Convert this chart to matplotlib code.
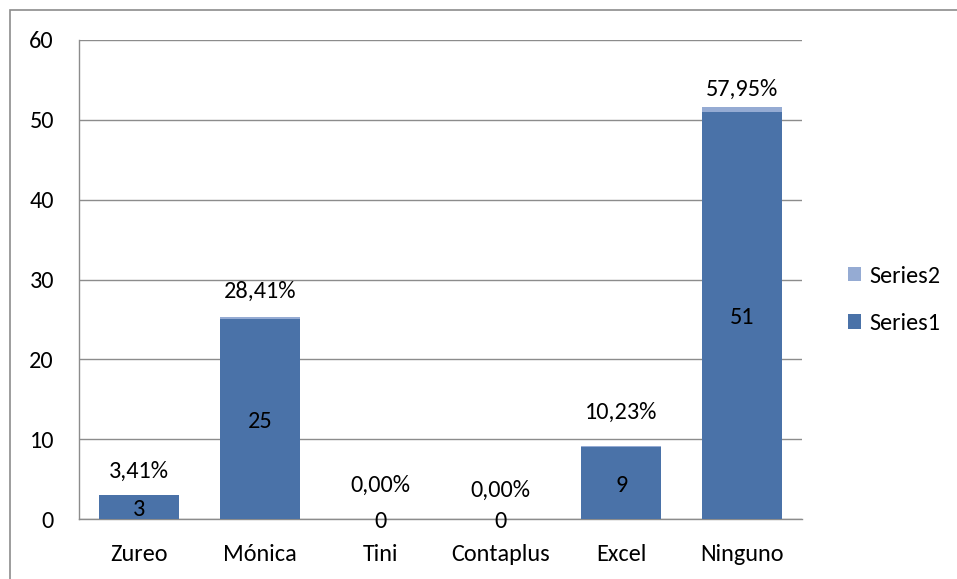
import matplotlib
matplotlib.use("Agg")
import matplotlib.pyplot as plt
from matplotlib.patches import Rectangle
import logging
logging.getLogger('matplotlib.font_manager').setLevel(logging.ERROR)

categories = ["Zureo", "Mónica", "Tini", "Contaplus", "Excel", "Ninguno"]
series1 = [3, 25, 0, 0, 9, 51]
series2 = [0.0341, 0.2841, 0.0, 0.0, 0.1023, 0.5795]
series2_labels = ["3,41%", "28,41%", "0,00%", "0,00%", "10,23%", "57,95%"]
yticks = [0, 10, 20, 30, 40, 50, 60]

# layout: pixel offsets of the percentage labels above the bar tops
pct_label_offsets = [23, 26, 34, 29, 34, 18]

c1 = "#4A72A8"
c2 = "#95ABD3"

plt.rcParams['font.family'] = ['Carlito', 'Lato', 'DejaVu Sans']
FS = 17.5

fig = plt.figure(figsize=(9.57, 5.79), dpi=100)
fig.patches.append(Rectangle((10/957, -0.1), 2.0, (579-10)/579 + 0.1, transform=fig.transFigure,
                             fill=False, edgecolor="#8c8c8c", linewidth=1.2))
ax = fig.add_axes([79/957, 60/579, (802-79)/957, (519-40)/579])

x = list(range(len(categories)))
b1 = ax.bar(x, series1, width=0.667, color=c1, label="Series1", zorder=3)
b2 = ax.bar(x, series2, width=0.667, bottom=series1, color=c2, label="Series2", zorder=3)

for xi, v in zip(x, series1):
    ax.annotate(str(v), (xi, v / 2), xytext=(0, -2), textcoords="offset pixels",
                ha="center", va="center", fontsize=FS, zorder=4)
for xi, v, b, lab, off in zip(x, series2, series1, series2_labels, pct_label_offsets):
    ax.annotate(lab, (xi, v + b), xytext=(0, off), textcoords="offset pixels",
                ha="center", va="center", fontsize=FS, zorder=4)

ax.set_xlim(-0.5, len(categories) - 0.5)
ax.set_ylim(0, 60)
ax.set_yticks(yticks)
ax.set_xticks(x)
ax.set_xticklabels(categories)
ax.tick_params(axis="y", labelsize=FS, length=0, pad=18)
ax.tick_params(axis="x", labelsize=FS, length=0, pad=18)
ax.grid(axis="y", color="#8c8c8c", linewidth=1.0, zorder=0)
for s in ["top", "right"]:
    ax.spines[s].set_visible(False)
for s in ["left", "bottom"]:
    ax.spines[s].set_color("#8c8c8c")
    ax.spines[s].set_linewidth(1.0)

handles = [b2, b1]
fig.legend(handles, ["Series2", "Series1"], loc="center left", bbox_to_anchor=(826/957, 1 - 300/579),
           frameon=False, fontsize=FS, handlelength=0.55, handleheight=0.55, handletextpad=0.35,
           labelspacing=1.1)

fig.savefig("out.png", dpi=100)
